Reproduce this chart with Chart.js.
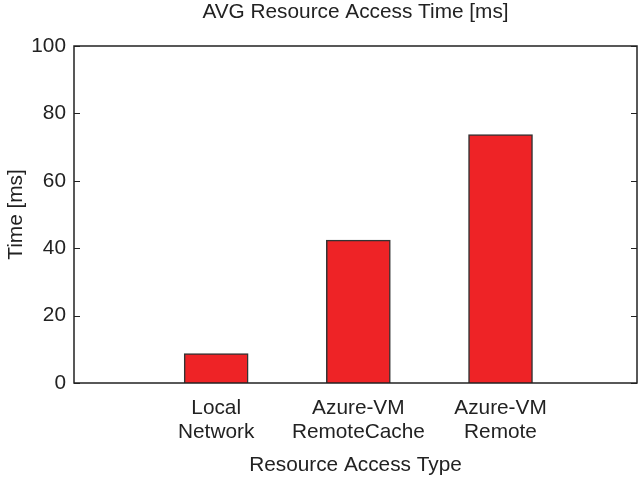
<!DOCTYPE html>
<html>
<head>
<meta charset="utf-8">
<script src="https://cdn.jsdelivr.net/npm/chart.js@4/dist/chart.umd.min.js"></script>
<style>
  html, body { margin: 0; padding: 0; background: #fff; }
  #wrap { width: 638px; height: 478px; }
</style>
</head>
<body>
<div id="wrap"><canvas id="myChart" width="638" height="478"></canvas></div>
<script>
const categories = [['Local', 'Network'], ['Azure-VM', 'RemoteCache'], ['Azure-VM', 'Remote']];
const positions = [1, 2, 3];
const accessTimes = [8.75, 42.4, 73.7];
const yTicks = [0, 20, 40, 60, 80, 100];

const ink = '#222';
const family = '"Liberation Sans", Arial, sans-serif';
const font = { family: family, size: 20.8 };

// frame round the plot and short inward ticks on both y sides
const framePlugin = {
  id: 'frame',
  afterDraw(chart) {
    const { ctx, chartArea: a, scales } = chart;
    ctx.save();
    ctx.strokeStyle = ink;
    ctx.lineWidth = 1.5;
    ctx.strokeRect(a.left, a.top, a.right - a.left, a.bottom - a.top);
    ctx.lineWidth = 1;
    ctx.beginPath();
    for (const v of yTicks) {
      const y = Math.round(scales.y.getPixelForValue(v)) + 0.5;
      ctx.moveTo(a.left, y); ctx.lineTo(a.left + 6, y);
      ctx.moveTo(a.right, y); ctx.lineTo(a.right - 6, y);
    }
    ctx.stroke();
    ctx.restore();
  }
};

new Chart(document.getElementById('myChart'), {
  type: 'bar',
  data: {
    datasets: [{
      xAxisID: 'x',
      yAxisID: 'y',
      data: positions.map((x, i) => ({ x: x, y: accessTimes[i] })),
      backgroundColor: '#ee2326',
      borderColor: '#333',
      borderWidth: 1.5,
      barThickness: 64
    }]
  },
  options: {
    responsive: false,
    animation: false,
    layout: { padding: { left: 4, right: 1, top: 0, bottom: 0 } },
    plugins: {
      legend: { display: false },
      tooltip: { enabled: false },
      frame: {}
    },
    scales: {
      x: {
        type: 'linear',
        offset: false,
        min: 0,
        max: 3.96,
        afterBuildTicks: s => { s.ticks = positions.map(v => ({ value: v })); },
        afterFit: s => { s.height = 95; },
        grid: { display: false, drawTicks: false },
        border: { display: false },
        ticks: {
          color: ink,
          font: { ...font, lineHeight: 1.16 },
          padding: 13,
          maxRotation: 0,
          callback: v => categories[positions.indexOf(v)]
        },
        title: {
          display: true,
          text: 'Resource Access Type',
          color: ink,
          font: font,
          padding: { top: 2, bottom: 0 }
        }
      },
      y: {
        min: 0,
        max: 100,
        afterBuildTicks: s => { s.ticks = yTicks.map(v => ({ value: v })); },
        afterFit: s => { s.width = 70; },
        grid: { display: false, drawTicks: false },
        border: { display: false },
        ticks: { color: ink, font: font, padding: 8 },
        title: {
          display: true,
          text: 'Time [ms]',
          color: ink,
          font: font,
          padding: { top: 0, bottom: 3 }
        }
      },
      // top axis only carries the chart title, centred over the plot
      titleAxis: {
        axis: 'x',
        type: 'linear',
        position: 'top',
        min: 0,
        max: 1,
        afterFit: s => { s.height = 46; },
        grid: { display: false, drawTicks: false },
        border: { display: false },
        ticks: { display: false },
        title: {
          display: true,
          text: 'AVG Resource Access Time [ms]',
          color: ink,
          font: font,
          padding: { top: 0, bottom: 0 }
        }
      }
    }
  },
  plugins: [framePlugin]
});
</script>
</body>
</html>
